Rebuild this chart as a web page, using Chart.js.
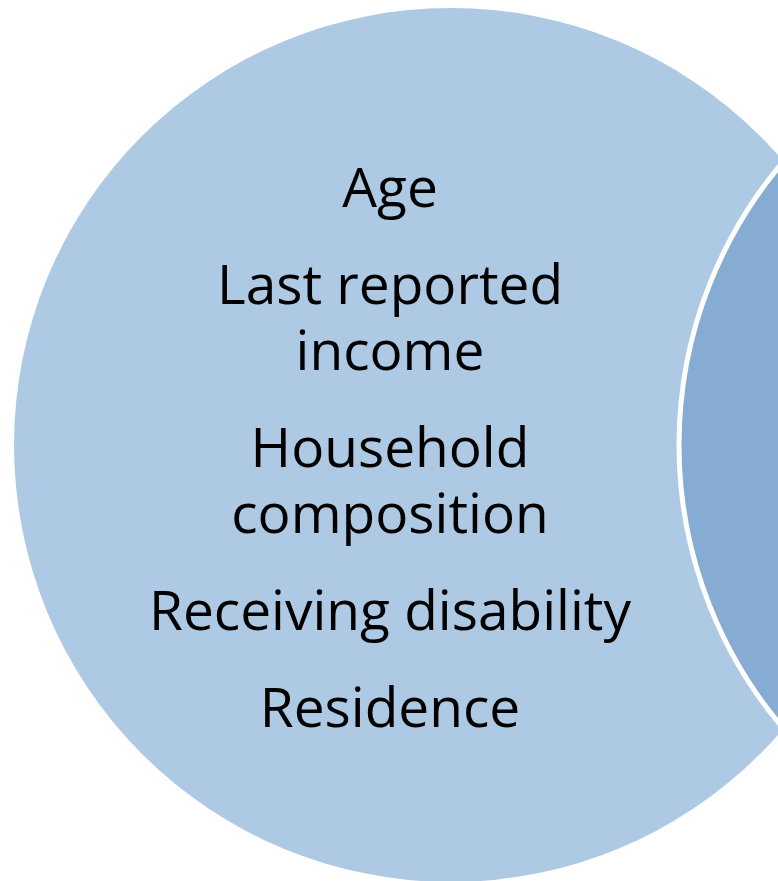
<!DOCTYPE html>
<html>
<head>
<meta charset="utf-8">
<script src="https://cdn.jsdelivr.net/npm/chart.js@4/dist/chart.umd.min.js"></script>
<style>
  html, body { margin: 0; padding: 0; background: #fff; }
  #wrap { position: relative; width: 778px; height: 881px; overflow: hidden; }
  #diagram { position: absolute; left: 0; top: 0; }
  #factors {
    position: absolute; left: 90px; width: 600px; top: 153px;
    text-align: center; font-family: "Open Sans", Lato, sans-serif;
    font-size: 55px; line-height: 66px; color: #000;
    font-variant-ligatures: none;
  }
  #factors div { margin-bottom: 31px; }
</style>
</head>
<body>
<div id="wrap">
  <canvas id="diagram" width="778" height="881"></canvas>
  <div id="factors"></div>
</div>
<script>
// diagram content
const stages = ['Characteristics', 'Next stage'];
const factors = [
  ['Age'],
  ['Last reported', 'income'],
  ['Household', 'composition'],
  ['Receiving disability'],
  ['Residence'],
];
// relative circle size per stage (1 = full size)
const stageSize = [1, 1];

// layout (diagram units = pixels)
const layout = {
  centersX: [451, 1116],
  centerY: 445,
  radius: 437,
  fills: ['#aec9e3', '#87acd4'],
  borders: ['#aec9e3', '#ffffff'],
  borderWidths: [0, 5],
};

const ctx = document.getElementById('diagram');
new Chart(ctx, {
  type: 'bubble',
  data: {
    labels: stages,
    datasets: [{
      label: 'stages',
      data: stages.map((s, i) => ({ x: layout.centersX[i], y: layout.centerY, r: layout.radius * stageSize[i] })),
      backgroundColor: layout.fills,
      borderColor: layout.borders,
      borderWidth: layout.borderWidths,
      clip: false,
    }],
  },
  options: {
    responsive: false,
    animation: false,
    events: [],
    layout: { padding: 0, autoPadding: false },
    plugins: { legend: { display: false }, tooltip: { enabled: false } },
    scales: {
      x: { type: 'linear', min: 0, max: 778, display: false },
      y: { type: 'linear', min: 0, max: 881, reverse: true, display: false },
    },
  },
});

const box = document.getElementById('factors');
factors.forEach(lines => {
  const d = document.createElement('div');
  d.innerHTML = lines.join('<br>');
  box.appendChild(d);
});
</script>
</body>
</html>
